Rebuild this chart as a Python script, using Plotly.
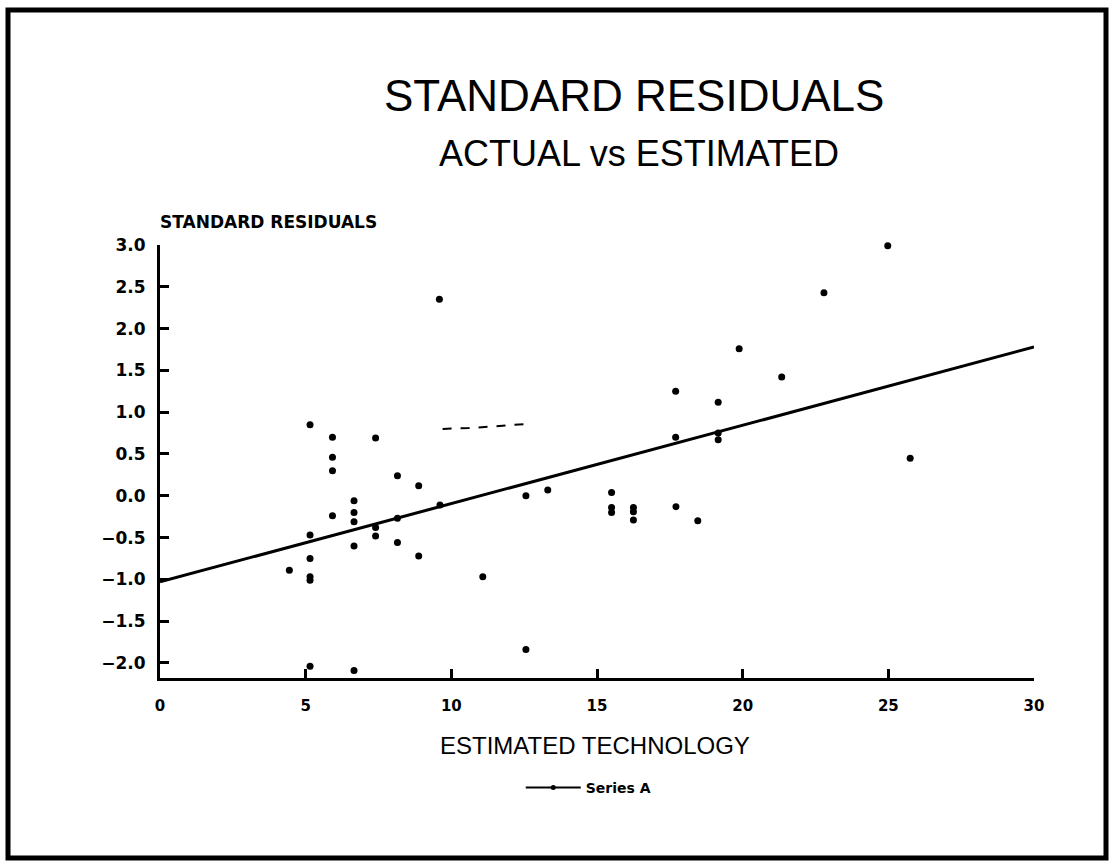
import plotly.graph_objects as go

# ---- data ----
est_technology = [9.59, 5.15, 5.92, 7.40, 5.92, 5.92, 8.15, 8.88, 6.66, 6.66, 6.66, 5.92,
                  9.61, 8.15, 7.40, 7.40, 5.15, 6.66, 8.15, 8.88, 5.15, 4.44, 5.15, 5.15,
                  5.15, 6.66, 19.88, 21.34, 17.70, 19.16, 17.70, 19.16, 19.16, 12.56, 13.31,
                  15.50, 15.50, 15.50, 16.25, 16.25, 16.25, 17.71, 18.46, 11.08, 12.56,
                  24.98, 22.79, 25.75]
std_residuals = [2.35, 0.85, 0.70, 0.69, 0.46, 0.30, 0.24, 0.12, -0.06, -0.20, -0.31, -0.24,
                 -0.11, -0.27, -0.38, -0.48, -0.47, -0.60, -0.56, -0.72, -0.75, -0.89, -0.97,
                 -1.01, -2.04, -2.09, 1.76, 1.42, 1.25, 1.12, 0.70, 0.75, 0.67, 0.00, 0.07,
                 0.04, -0.14, -0.20, -0.14, -0.19, -0.29, -0.13, -0.30, -0.97, -1.84,
                 2.99, 2.43, 0.45]

fit_x = [0, 30]
fit_y = [-1.03, 1.78]

stray_mark_x = [9.7, 10.6, 11.5, 12.1, 12.6]
stray_mark_y = [0.80, 0.81, 0.83, 0.85, 0.86]

x_ticks = [0, 5, 10, 15, 20, 25, 30]
y_ticks = [3.0, 2.5, 2.0, 1.5, 1.0, 0.5, 0.0, -0.5, -1.0, -1.5, -2.0]
y_tick_text = ["3.0", "2.5", "2.0", "1.5", "1.0", "0.5", "0.0", "−0.5", "−1.0", "−1.5", "−2.0"]

fig = go.Figure()

fig.add_trace(go.Scatter(x=fit_x, y=fit_y, mode="lines",
                         line=dict(color="black", width=3), showlegend=False,
                         hoverinfo="skip"))
fig.add_trace(go.Scatter(x=stray_mark_x, y=stray_mark_y, mode="lines",
                         line=dict(color="black", width=2, dash="dash"), showlegend=False,
                         hoverinfo="skip"))
fig.add_trace(go.Scatter(x=est_technology, y=std_residuals, mode="markers",
                         marker=dict(color="black", size=7), showlegend=False,
                         cliponaxis=False, name="Series A"))
fig.add_trace(go.Scatter(x=[None], y=[None], mode="lines+markers", name="Series A",
                         line=dict(color="black", width=2),
                         marker=dict(color="black", size=5)))

L, R, T, B = 160, 77, 245, 185
W, H = 1111, 863
pw, ph = W - L - R, H - T - B


def px(xp):
    return (xp - L) / pw


def py(yp):
    return (H - B - yp) / ph


fig.update_layout(
    width=W, height=H,
    margin=dict(l=L, r=R, t=T, b=B),
    paper_bgcolor="white", plot_bgcolor="white",
    font=dict(family="DejaVu Sans", color="black"),
    xaxis=dict(range=[0, 30], tickvals=x_ticks, ticktext=[str(v) for v in x_ticks],
               showgrid=False, zeroline=False, showline=True, linecolor="black",
               linewidth=3, ticks="inside", ticklen=9, tickwidth=3, tickcolor="black",
               tickfont=dict(family="DejaVu Sans", size=15, color="black", weight="bold"),
               ticklabelstandoff=12),
    yaxis=dict(range=[-2.18, 3.0], tickvals=y_ticks, ticktext=y_tick_text,
               showgrid=False, zeroline=False, showline=True, linecolor="black",
               linewidth=3, ticks="inside", ticklen=9, tickwidth=3, tickcolor="black",
               tickfont=dict(family="DejaVu Sans", size=17, color="black", weight="bold"),
               ticklabelstandoff=8),
    legend=dict(orientation="h", x=0.49, xanchor="center", y=py(788), yanchor="middle",
                font=dict(family="DejaVu Sans", size=14, color="black", weight="bold"),
                bgcolor="rgba(0,0,0,0)", itemwidth=55),
    showlegend=True,
)

fig.add_annotation(text="STANDARD RESIDUALS", xref="paper", yref="paper",
                   x=px(634), y=py(95), xanchor="center", yanchor="middle", showarrow=False,
                   font=dict(family="Liberation Sans", size=44, color="black"))
fig.add_annotation(text="ACTUAL vs ESTIMATED", xref="paper", yref="paper",
                   x=px(639), y=py(153), xanchor="center", yanchor="middle", showarrow=False,
                   font=dict(family="Liberation Sans", size=36, color="black"))
fig.add_annotation(text="STANDARD RESIDUALS", xref="paper", yref="paper",
                   x=px(158), y=py(222), xanchor="left", yanchor="middle", showarrow=False,
                   font=dict(family="DejaVu Sans", size=17, color="black", weight="bold"))
fig.add_annotation(text="ESTIMATED TECHNOLOGY", xref="paper", yref="paper",
                   x=px(595), y=py(745), xanchor="center", yanchor="middle", showarrow=False,
                   font=dict(family="Liberation Sans", size=24, color="black"))

# scanned page border
fig.add_shape(type="rect", xref="paper", yref="paper",
              x0=px(8), x1=px(1106), y0=py(858), y1=py(10),
              line=dict(color="black", width=5))

fig.write_html("out.html", post_script="document.body.style.margin='0px';",
               config={"displayModeBar": False})
